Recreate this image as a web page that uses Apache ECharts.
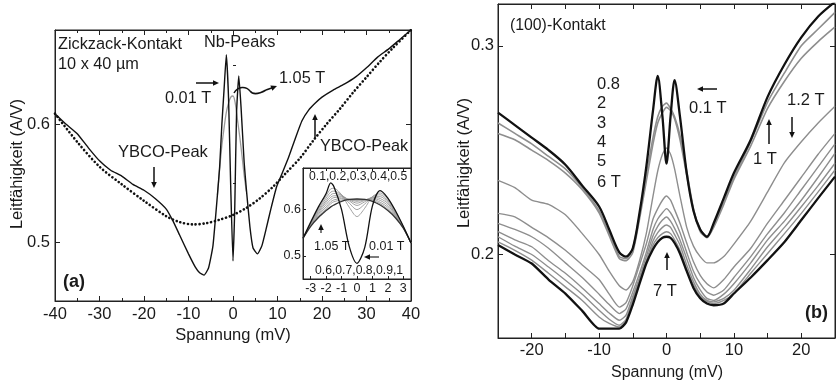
<!DOCTYPE html>
<html><head><meta charset="utf-8">
<script src="https://cdn.jsdelivr.net/npm/echarts@6/dist/echarts.min.js"></script>
<style>html,body{margin:0;padding:0;background:#fff}#c{width:836px;height:385px}</style>
</head><body><div id="c"></div>
<script>
// ---------- Panel (a): Zickzack-Kontakt ----------
const aVolt = [-40,-37.5,-35,-32.5,-30,-27.5,-25,-22.5,-20,-17.5,-15,-13.5,-12,-10,-8.5,-7.5,-6.5,-5.5,-4.5,-3.5,-3,-2.5,-2,-1.5,-1,-0.5,0,0.4,0.8,1.3,1.8,2.5,3,3.8,4.5,5.5,6.5,7.5,8.5,9.8,11,12.5,14,15.5,17,18.5,20,22.5,25,27.5,30,32.5,35,37.5,40];
const a001T = [0.609,0.600,0.592,0.580,0.569,0.561,0.556,0.549,0.544,0.537,0.528,0.518,0.506,0.490,0.479,0.474,0.472,0.478,0.497,0.540,0.564,0.600,0.630,0.659,0.622,0.545,0.484,0.530,0.610,0.641,0.615,0.568,0.545,0.513,0.495,0.490,0.497,0.512,0.528,0.547,0.558,0.572,0.588,0.603,0.612,0.618,0.623,0.629,0.634,0.640,0.648,0.657,0.664,0.672,0.680];
const aGreyVolt = [-3.5,-3,-2.5,-2,-1.5,-1,-0.5,0,0.5,1,1.5,2,2.5,3];
const a105T = [0.540,0.562,0.582,0.597,0.610,0.618,0.623,0.624,0.618,0.604,0.590,0.574,0.557,0.543];
const aDotVolt = [-40,-35,-30,-25,-20,-15,-12,-9,-6,-3,0,3,6,9,12,15,18,21,24,27,30,33,36,40];
const aDot = [0.609,0.585,0.564,0.549,0.535,0.522,0.517,0.515,0.516,0.519,0.523,0.529,0.537,0.547,0.559,0.571,0.586,0.600,0.613,0.627,0.640,0.653,0.665,0.680];
const aXTicks = [-40,-30,-20,-10,0,10,20,30,40];
const aYTicks = [0.5,0.6];
const aYMinor = [0.55,0.65];

// ---------- Inset of (a) ----------
const inVolt = [-3.5,-3,-2.5,-2,-1.7,-1.5,-1,-0.5,0,0.5,1,1.5,2,2.5,3,3.5];
const in001 = [0.538,0.573,0.606,0.635,0.658,0.650,0.600,0.520,0.484,0.518,0.608,0.641,0.625,0.597,0.564,0.528];
const in01  = [0.538,0.571,0.603,0.630,0.645,0.646,0.632,0.605,0.585,0.603,0.628,0.636,0.622,0.596,0.563,0.528];
const in02  = [0.538,0.570,0.600,0.625,0.638,0.640,0.632,0.614,0.600,0.612,0.628,0.632,0.619,0.594,0.563,0.528];
const in03  = [0.538,0.569,0.597,0.620,0.632,0.635,0.631,0.619,0.609,0.617,0.627,0.628,0.616,0.592,0.562,0.528];
const in04  = [0.538,0.568,0.594,0.616,0.627,0.630,0.629,0.621,0.614,0.620,0.626,0.624,0.613,0.590,0.562,0.528];
const in06  = [0.538,0.567,0.591,0.611,0.622,0.626,0.627,0.622,0.618,0.621,0.624,0.620,0.609,0.588,0.561,0.528];
const in08  = [0.538,0.566,0.588,0.606,0.617,0.621,0.624,0.622,0.620,0.622,0.622,0.616,0.605,0.586,0.561,0.528];
const in10  = [0.538,0.565,0.585,0.602,0.613,0.617,0.621,0.622,0.622,0.622,0.620,0.613,0.601,0.584,0.560,0.528];
const in105 = [0.538,0.564,0.583,0.598,0.606,0.610,0.618,0.622,0.623,0.622,0.618,0.610,0.598,0.582,0.560,0.528];
const inXTicks = [-3,-2,-1,0,1,2,3];
const inYTicks = [0.5,0.6];

// ---------- Panel (b): (100)-Kontakt ----------
const bVolt = [-25,-22.5,-20,-17.5,-15,-12.5,-10,-8.5,-7,-6,-5,-4,-3,-2,-1.3,-0.6,0,0.6,1.2,2,3,4,5,6,7,8.5,10,12.5,15,17.5,20,22.5,25];
const b01T = [0.268,0.262,0.256,0.250,0.243,0.233,0.223,0.212,0.201,0.199,0.203,0.220,0.242,0.269,0.2855,0.266,0.2435,0.266,0.2835,0.266,0.239,0.221,0.212,0.2085,0.215,0.227,0.239,0.255,0.2755,0.291,0.304,0.314,0.321];
const b08T = [0.263,0.258,0.253,0.247,0.241,0.232,0.221,0.210,0.199,0.198,0.203,0.219,0.238,0.256,0.266,0.271,0.2725,0.270,0.266,0.257,0.240,0.222,0.212,0.2085,0.214,0.225,0.237,0.254,0.273,0.287,0.300,0.308,0.316];
const b1T  = [0.258,0.255,0.250,0.245,0.239,0.231,0.220,0.209,0.198,0.197,0.201,0.217,0.235,0.253,0.263,0.268,0.2705,0.269,0.265,0.255,0.238,0.221,0.211,0.208,0.213,0.224,0.236,0.252,0.270,0.283,0.294,0.302,0.309];
const b12T = [0.2355,0.232,0.226,0.224,0.219,0.210,0.200,0.192,0.185,0.183,0.187,0.197,0.210,0.228,0.240,0.248,0.251,0.248,0.241,0.228,0.213,0.204,0.199,0.196,0.196,0.199,0.205,0.216,0.230,0.244,0.254,0.263,0.271];
const b2T  = [0.2197,0.218,0.213,0.208,0.202,0.195,0.188,0.181,0.1748,0.177,0.185,0.195,0.205,0.217,0.222,0.226,0.228,0.226,0.2215,0.215,0.2055,0.1965,0.190,0.186,0.184,0.188,0.194,0.203,0.215,0.226,0.237,0.248,0.258];
const b3T  = [0.2149,0.212,0.2085,0.203,0.196,0.189,0.181,0.176,0.1717,0.174,0.182,0.191,0.201,0.212,0.217,0.220,0.222,0.220,0.2165,0.2105,0.201,0.192,0.186,0.182,0.1805,0.183,0.189,0.199,0.210,0.220,0.231,0.242,0.253];
const b4T  = [0.2109,0.207,0.2037,0.197,0.191,0.184,0.1765,0.172,0.1685,0.171,0.180,0.189,0.199,0.209,0.2135,0.2165,0.218,0.216,0.2125,0.207,0.198,0.189,0.183,0.179,0.178,0.181,0.186,0.196,0.207,0.216,0.226,0.237,0.2485];
const b5T  = [0.2085,0.204,0.200,0.194,0.1877,0.181,0.1733,0.169,0.1661,0.169,0.179,0.188,0.197,0.2065,0.2105,0.213,0.2141,0.213,0.2095,0.2045,0.195,0.187,0.181,0.178,0.1773,0.179,0.1829,0.193,0.2037,0.213,0.2229,0.233,0.2437];
const b6T  = [0.206,0.202,0.1973,0.191,0.1845,0.178,0.1701,0.167,0.1653,0.168,0.178,0.187,0.196,0.2045,0.208,0.210,0.2109,0.210,0.207,0.202,0.193,0.1855,0.180,0.1775,0.1765,0.178,0.1813,0.191,0.2005,0.210,0.2197,0.230,0.2405];
const b7T  = [0.2045,0.200,0.1957,0.188,0.1813,0.173,0.1645,0.1645,0.1645,0.1675,0.176,0.186,0.1957,0.2025,0.206,0.208,0.2085,0.208,0.2055,0.2005,0.192,0.184,0.179,0.1765,0.1757,0.1765,0.1813,0.189,0.1973,0.206,0.2165,0.227,0.2373];
const bXTicks = [-20,-10,0,10,20];
const bXTickMarks = [-25,-20,-15,-10,-5,0,5,10,15,20,25];
const bYTicks = [0.2,0.3];
const bFieldList = ['0.8','2','3','4','5','6 T'];

// ---------- build ----------
const FF = 'Liberation Sans';
const FONT = '"Liberation Sans", Arial, sans-serif';
const TXT = '#1a1a1a', AX = '#222';
const zip = (xs, ys) => xs.map((x, i) => [x, ys[i]]);

function axisBase(extra) {
  return Object.assign({
    type: 'value',
    axisLine: {show: true, onZero: false, lineStyle: {color: AX, width: 1}},
    splitLine: {show: false},
    minorSplitLine: {show: false}
  }, extra);
}

const xAxis = [
  axisBase({gridIndex: 0, position: 'bottom', min: -40, max: 40, interval: 10,
    axisTick: {inside: true, length: 5, lineStyle: {color: AX}},
    minorTick: {show: true, splitNumber: 2, length: 3, lineStyle: {color: AX}},
    axisLabel: {fontSize: 16.5, color: TXT, fontFamily: FF, margin: 5, customValues: aXTicks}}),
  axisBase({gridIndex: 0, position: 'top', min: -40, max: 40, interval: 10,
    axisTick: {inside: true, length: 5, lineStyle: {color: AX}},
    minorTick: {show: true, splitNumber: 2, length: 3, lineStyle: {color: AX}},
    axisLabel: {show: false}}),
  axisBase({gridIndex: 1, position: 'bottom', min: -3.5, max: 3.5, z: 8,
    axisTick: {inside: true, length: 3, customValues: inXTicks, lineStyle: {color: AX}},
    axisLabel: {fontSize: 12.5, color: TXT, fontFamily: FF, margin: 3, customValues: inXTicks}}),
  axisBase({gridIndex: 1, position: 'top', min: -3.5, max: 3.5, z: 8,
    axisTick: {inside: true, length: 3, customValues: inXTicks, lineStyle: {color: AX}},
    axisLabel: {show: false}}),
  axisBase({gridIndex: 2, position: 'bottom', min: -25, max: 25,
    axisTick: {inside: true, length: 5, customValues: bXTickMarks, lineStyle: {color: AX}},
    axisLabel: {fontSize: 16.5, color: TXT, fontFamily: FF, margin: 4, customValues: bXTicks}}),
  axisBase({gridIndex: 2, position: 'top', min: -25, max: 25,
    axisTick: {inside: true, length: 5, customValues: bXTickMarks, lineStyle: {color: AX}},
    axisLabel: {show: false}})
];

const yAxis = [
  axisBase({gridIndex: 0, position: 'left', min: 0.45, max: 0.68,
    axisTick: {inside: true, length: 5, customValues: aYTicks, lineStyle: {color: AX}},
    axisLabel: {fontSize: 16.5, color: TXT, fontFamily: FF, margin: 5, customValues: aYTicks}}),
  axisBase({gridIndex: 0, position: 'right', min: 0.45, max: 0.68,
    axisTick: {inside: true, length: 5, customValues: aYTicks, lineStyle: {color: AX}},
    axisLabel: {show: false}}),
  axisBase({gridIndex: 1, position: 'left', min: 0.45, max: 0.69, z: 8,
    axisTick: {inside: true, length: 3, customValues: inYTicks, lineStyle: {color: AX}},
    axisLabel: {fontSize: 12.5, color: TXT, fontFamily: FF, margin: 2, customValues: inYTicks}}),
  axisBase({gridIndex: 2, position: 'left', min: 0.16, max: 0.32,
    axisTick: {inside: true, length: 5, customValues: bYTicks, lineStyle: {color: AX}},
    axisLabel: {fontSize: 16.5, color: TXT, fontFamily: FF, margin: 4, customValues: bYTicks}}),
  axisBase({gridIndex: 2, position: 'right', min: 0.16, max: 0.32,
    axisTick: {inside: true, length: 5, customValues: bYTicks, lineStyle: {color: AX}},
    axisLabel: {show: false}}),
  axisBase({gridIndex: 0, position: 'left', min: 0.45, max: 0.68,
    axisLine: {show: false},
    axisTick: {inside: true, length: 3, customValues: aYMinor, lineStyle: {color: AX}},
    axisLabel: {show: false}})
];

function line(name, xi, yi, data, color, width, extra) {
  return Object.assign({
    name, type: 'line', xAxisIndex: xi, yAxisIndex: yi, data,
    showSymbol: false, symbol: 'none', animation: false,
    lineStyle: {color, width}, emphasis: {disabled: true}
  }, extra || {});
}

const series = [
  // panel (a)
  line('Fit', 0, 0, zip(aDotVolt, aDot), '#111', 2.6, {smooth: 0.3,
    lineStyle: {color: '#111', width: 2.6, type: [0.1, 3.8], cap: 'round'}}),
  line('1.05 T', 0, 0, zip(aGreyVolt, a105T), '#9a9a9a', 1.3, {smooth: 0.3}),
  line('0.01 T', 0, 0, zip(aVolt, a001T), '#111', 1.4, {smooth: 0.15}),
  // inset
  line('i0.1', 2, 2, zip(inVolt, in01), '#999', 0.9, {smooth: 0.3, z: 7}),
  line('i0.2', 2, 2, zip(inVolt, in02), '#999', 0.9, {smooth: 0.3, z: 7}),
  line('i0.3', 2, 2, zip(inVolt, in03), '#999', 0.9, {smooth: 0.3, z: 7}),
  line('i0.4', 2, 2, zip(inVolt, in04), '#999', 0.9, {smooth: 0.3, z: 7}),
  line('i0.6', 2, 2, zip(inVolt, in06), '#999', 0.9, {smooth: 0.3, z: 7}),
  line('i0.8', 2, 2, zip(inVolt, in08), '#999', 0.9, {smooth: 0.3, z: 7}),
  line('i1.0', 2, 2, zip(inVolt, in10), '#999', 0.9, {smooth: 0.3, z: 7}),
  line('i1.05', 2, 2, zip(inVolt, in105), '#333', 1.3, {smooth: 0.3, z: 7}),
  line('i0.01', 2, 2, zip(inVolt, in001), '#111', 1.3, {smooth: 0.3, z: 7}),
  // panel (b)
  line('0.8 T', 4, 3, zip(bVolt, b08T), '#8e8e8e', 1.6, {smooth: 0.2}),
  line('1 T', 4, 3, zip(bVolt, b1T), '#8e8e8e', 1.6, {smooth: 0.2}),
  line('1.2 T', 4, 3, zip(bVolt, b12T), '#8e8e8e', 1.4, {smooth: 0.2}),
  line('2 T', 4, 3, zip(bVolt, b2T), '#8e8e8e', 1.4, {smooth: 0.2}),
  line('3 T', 4, 3, zip(bVolt, b3T), '#8e8e8e', 1.4, {smooth: 0.2}),
  line('4 T', 4, 3, zip(bVolt, b4T), '#8e8e8e', 1.4, {smooth: 0.2}),
  line('5 T', 4, 3, zip(bVolt, b5T), '#8e8e8e', 1.4, {smooth: 0.2}),
  line('6 T', 4, 3, zip(bVolt, b6T), '#8e8e8e', 1.4, {smooth: 0.2}),
  line('0.1 T', 4, 3, zip(bVolt, b01T), '#111', 2.3, {smooth: 0.3}),
  line('7 T', 4, 3, zip(bVolt, b7T), '#111', 2.3, {smooth: 0.2})
];

function txt(s, x, y, size, opt) {
  opt = opt || {};
  return {type: 'text', x, y, rotation: opt.rot || 0, z: 100,
    style: {text: s, font: (opt.bold ? 'bold ' : '') + size + 'px ' + FONT, fill: TXT,
      textAlign: opt.align || 'left', textVerticalAlign: 'middle', verticalAlign: 'middle'}};
}
function arrow(x1, y1, x2, y2, w) {
  const dx = x2 - x1, dy = y2 - y1, L = Math.hypot(dx, dy), ux = dx / L, uy = dy / L;
  const hl = 6, hw = 2.8, bx = x2 - ux * hl, by = y2 - uy * hl;
  return [
    {type: 'line', z: 100, shape: {x1, y1, x2: bx + ux, y2: by + uy}, style: {stroke: '#111', lineWidth: w || 1.5}},
    {type: 'polygon', z: 100, shape: {points: [[x2, y2], [bx - uy * hw, by + ux * hw], [bx + uy * hw, by - ux * hw]]}, style: {fill: '#111'}}
  ];
}

const graphic = [
  // axis names
  txt('Spannung (mV)', 233, 335, 16.5, {align: 'center'}),
  txt('Leitfähigkeit (A/V)', 17, 164, 16.5, {align: 'center', rot: Math.PI / 2}),
  txt('Spannung (mV)', 667, 373, 16, {align: 'center'}),
  txt('Leitfähigkeit (A/V)', 464, 163, 16.5, {align: 'center', rot: Math.PI / 2}),
  // panel (a)
  txt('Zickzack-Kontakt', 58, 45, 16.3),
  txt('10 x 40 µm', 58, 65, 16.3),
  txt('Nb-Peaks', 204, 43, 16.3),
  txt('1.05 T', 279, 79, 16.3),
  txt('0.01 T', 165, 99, 16.3),
  txt('YBCO-Peak', 118, 152, 16.5),
  txt('YBCO-Peak', 320, 147, 16.2),
  txt('(a)', 63, 282, 18, {bold: true}),
  ...arrow(196, 83, 219, 83),
  ...arrow(154, 167, 154, 188),
  ...arrow(315, 138, 315, 114),
  {type: 'bezierCurve', z: 100, shape: {x1: 234, y1: 93, cpx1: 238, cpy1: 86, cpx2: 246, cpy2: 86, x2: 250, y2: 91}, style: {stroke: '#111', lineWidth: 1.5, fill: null}},
  {type: 'bezierCurve', z: 100, shape: {x1: 250, y1: 91, cpx1: 253, cpy1: 95, cpx2: 259, cpy2: 94, x2: 266, y2: 90}, style: {stroke: '#111', lineWidth: 1.5, fill: null}},
  ...arrow(266, 90, 277, 86),
  // inset labels
  txt('0.1,0.2,0.3,0.4,0.5', 309, 177, 12.2),
  txt('0.6,0.7,0.8,0.9,1', 315, 271, 12.2),
  txt('1.05 T', 314, 247, 12.5),
  txt('0.01 T', 369, 247, 12.5),
  ...arrow(321, 233, 321, 224, 1.1),
  ...arrow(379, 257, 364, 257, 1.1),
  // panel (b)
  txt('(100)-Kontakt', 510, 26, 15.8),
  ...bFieldList.map((s, i) => txt(s, 597, [84, 103, 123, 142, 161, 182][i], 16.5)),
  txt('0.1 T', 689, 108, 16.5),
  txt('1.2 T', 787, 100, 16.5),
  txt('1 T', 753, 159, 16.5),
  txt('7 T', 653, 291, 16.5),
  txt('(b)', 805, 313, 18, {bold: true}),
  ...arrow(717, 89, 697, 89),
  ...arrow(792, 117, 792, 138),
  ...arrow(769, 144, 769, 119),
  ...arrow(667, 270, 667, 252)
];

const option = {
  animation: false,
  backgroundColor: '#fff',
  textStyle: {fontFamily: FF},
  grid: [
    {left: 55, top: 30, width: 356, height: 271, show: true, borderColor: AX, borderWidth: 1, backgroundColor: 'transparent'},
    {left: 303, top: 168, width: 108, height: 111, show: true, borderColor: AX, borderWidth: 1, backgroundColor: '#fff', z: 5},
    {left: 498, top: 4, width: 337, height: 334, show: true, borderColor: AX, borderWidth: 1, backgroundColor: 'transparent'}
  ],
  xAxis, yAxis, series, graphic
};

const chart = echarts.init(document.getElementById('c'));
chart.setOption(option);
</script></body></html>
